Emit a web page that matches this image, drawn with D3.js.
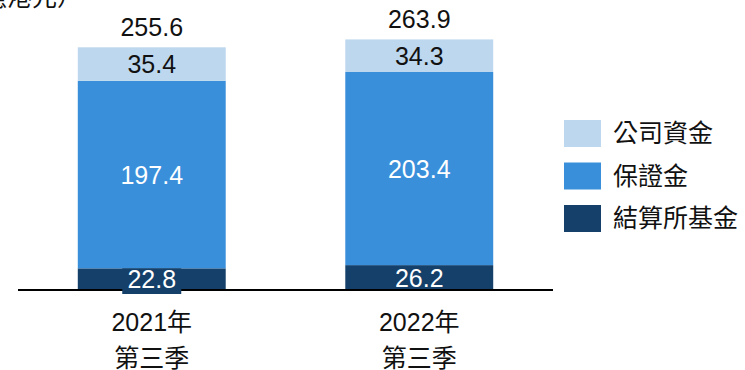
<!DOCTYPE html>
<html><head><meta charset="utf-8">
<script src="https://cdn.jsdelivr.net/npm/d3@7"></script>
<style>body{margin:0;background:#fff}svg{display:block}text{font-family:"Liberation Sans",Arial,"Noto Sans CJK TC",sans-serif}</style>
</head><body>
<svg id="c" width="745" height="370"></svg>
<script>
const categories = ["2021年|第三季", "2022年|第三季"];
const seriesNames = ["結算所基金", "保證金", "公司資金"];
const clearingFund = [22.8, 26.2];
const margin = [197.4, 203.4];
const corporate = [35.4, 34.3];
const totals = [255.6, 263.9];
const colors = ["#15406A", "#3A8FDB", "#BDD7EE"];
const labelColors = ["#fff", "#fff", "#111"];
const unitLabel = "（億港元）";

const svg = d3.select("#c");
const x = d3.scaleBand().domain(categories).range([18, 553]).paddingInner(0.447).paddingOuter(0.2235);
const y = d3.scaleLinear().domain([0, 300]).range([290, 5.15]);
const FS = 25;

const seriesVals = [clearingFund, margin, corporate];
const data = categories.map((c, i) => {
  const o = {cat: c};
  seriesNames.forEach((s, k) => o[s] = seriesVals[k][i]);
  return o;
});
const stack = d3.stack().keys(seriesNames)(data);

stack.forEach((layer, k) => {
  svg.append("g").selectAll("rect").data(layer).join("rect")
    .attr("x", d => x(d.data.cat))
    .attr("width", x.bandwidth())
    .attr("y", d => y(d[1]))
    .attr("height", d => y(d[0]) - y(d[1]))
    .attr("fill", colors[k]);
});

// axis baseline
svg.append("line").attr("x1", 18).attr("x2", 553).attr("y1", y(0)).attr("y2", y(0))
  .attr("stroke", "#000").attr("stroke-width", 2);

// segment labels
stack.forEach((layer, k) => {
  layer.forEach((d, i) => {
    const cx = x(d.data.cat) + x.bandwidth() / 2;
    const cy = (y(d[0]) + y(d[1])) / 2;
    if (k === 0 && i === 0) {
      svg.append("rect").attr("x", cx - 29.5).attr("y", y(d[1])).attr("width", 59)
        .attr("height", y(0) + 4 - y(d[1])).attr("fill", colors[0]);
    }
    svg.append("text").attr("x", cx).attr("y", cy + 9).attr("text-anchor", "middle")
      .attr("font-size", FS).attr("fill", labelColors[k]).text(seriesVals[k][i].toFixed(1));
  });
});

// totals
categories.forEach((c, i) => {
  svg.append("text").attr("x", x(c) + x.bandwidth() / 2).attr("y", y(totals[i]) - 11)
    .attr("text-anchor", "middle").attr("font-size", FS).attr("fill", "#111").text(totals[i].toFixed(1));
});

// x labels
categories.forEach(c => {
  const parts = c.split("|");
  const cx = x(c) + x.bandwidth() / 2;
  svg.append("text").attr("x", cx).attr("y", 331).attr("text-anchor", "middle")
    .attr("font-size", FS).attr("fill", "#111").text(parts[0]);
  svg.append("text").attr("x", cx).attr("y", 367).attr("text-anchor", "middle")
    .attr("font-size", FS).attr("fill", "#111").text(parts[1]);
});

// unit label
svg.append("text").attr("x", 82).attr("y", 6).attr("text-anchor", "end")
  .attr("font-size", FS).attr("fill", "#111").text(unitLabel);

// legend
const legendOrder = [2, 1, 0];
legendOrder.forEach((k, j) => {
  const ly = 120 + j * 42.5;
  svg.append("rect").attr("x", 564).attr("y", ly).attr("width", 37).attr("height", 27).attr("fill", colors[k]);
  svg.append("text").attr("x", 613).attr("y", ly + 22).attr("font-size", FS)
    .attr("fill", "#111").text(seriesNames[k]);
});
</script>
</body></html>
